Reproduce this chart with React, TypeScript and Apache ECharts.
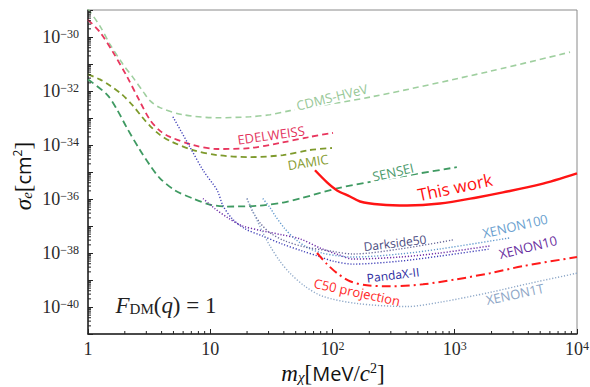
import React, { useEffect, useRef } from "react";
import * as echarts from "echarts";

// ---- data: [mass (MeV/c^2), cross-section (cm^2)] ----
const cdmsHVeV: [number, number][] = [
  [1, 1.11e-29], [1.25, 2.58e-30], [1.51, 5.47e-31], [1.93, 9.8e-32], [2.33, 3.2e-32],
  [2.82, 9.57e-33], [3.21, 4.41e-33], [3.88, 2.42e-33], [5.99, 1.32e-33], [11.4, 1.02e-33],
  [21.1, 1.11e-33], [30.8, 1.32e-33], [44.9, 1.87e-33], [214, 6.22e-33], [1940, 5.36e-32],
  [8770, 2.75e-31],
];
const edelweiss: [number, number][] = [
  [1, 4.33e-30], [1.25, 1.54e-30], [1.6, 2.75e-31], [2.08, 3.48e-32], [2.66, 4.05e-33],
  [3.21, 8.6e-34], [3.88, 3.33e-34], [4.69, 1.99e-34], [7.23, 1.0e-34], [11.4, 7.1e-35],
  [21.1, 7.7e-35], [37.1, 1.19e-34], [65, 1.99e-34], [101, 2.81e-34],
];
const damic: [number, number][] = [
  [1, 4.14e-32], [1.25, 2.69e-32], [1.51, 1.61e-32], [1.9, 7.4e-33], [2.33, 2.87e-33],
  [2.76, 1.11e-33], [3.21, 5.13e-34], [3.88, 2.37e-34], [4.69, 1.41e-34], [7.23, 6.5e-35],
  [11.4, 4.23e-35], [21.1, 3.56e-35], [39.4, 4.23e-35], [65, 6.5e-35], [99, 7.73e-35],
];
const sensei: [number, number][] = [
  [1, 2.69e-32], [1.43, 7.4e-33], [1.73, 2.03e-33], [2.08, 4.33e-34], [2.66, 6.5e-35],
  [3.21, 1.79e-35], [3.88, 5.84e-36], [5.15, 2.08e-36], [7.23, 1.04e-36], [9.93, 6.22e-37],
  [13.7, 5.25e-37], [25.5, 5.71e-37], [39.4, 7.4e-37], [54.2, 1.04e-36], [109, 2.47e-36],
  [214, 4.51e-36], [1040, 1.51e-35],
];
const thisWork: [number, number][] = [
  [71.9, 1.16e-35], [90.2, 4.14e-36], [109, 2.08e-36], [139, 1.24e-36], [168, 8.07e-37],
  [245, 6.22e-37], [407, 5.71e-37], [757, 6.8e-37], [1520, 1.14e-36], [2480, 1.75e-36],
  [4980, 3.48e-36], [10000, 8.97e-36],
];
const c50Projection: [number, number][] = [
  [74.7, 1.0e-38], [90.2, 3.88e-39], [109, 1.79e-39], [139, 8.97e-40], [191, 6.37e-40],
  [295, 5.84e-40], [550, 6.93e-40], [1043, 1.07e-39], [1942, 1.79e-39], [3615, 3.27e-39],
  [10000, 7.08e-39],
];
const pandaX2: [number, number][] = [
  [4.95, 1.11e-33], [6.82, 8.4e-35], [8.73, 1.16e-35], [11.4, 2.08e-36], [12.7, 5.71e-37],
  [15.1, 1.87e-37], [19.2, 7.9e-38], [26.5, 4.33e-38], [38.6, 2.17e-38], [56.4, 1.19e-38],
  [76.0, 7.7e-39], [101, 5.0e-39], [147, 3.88e-39], [356, 5.0e-39], [757, 7.7e-39],
  [1942, 1.41e-38],
];
const xenon10: [number, number][] = [
  [8.73, 1.04e-36], [10.9, 4.41e-37], [13.9, 2.03e-37], [18.2, 1.02e-37], [26.5, 6.64e-38],
  [38.6, 4.71e-38], [54.2, 3.34e-38], [78.9, 1.54e-38], [114, 8.4e-39], [147, 5.97e-39],
  [356, 7.08e-39], [757, 1.0e-38], [1942, 1.83e-38],
];
const xenon100: [number, number][] = [
  [26.9, 1.04e-36], [30.8, 4.81e-37], [33.9, 2.42e-37], [40.8, 7.9e-38], [49.3, 3.34e-38],
  [63.1, 1.54e-38], [82.0, 1.0e-38], [114, 7.7e-39], [147, 7.08e-39], [356, 9.2e-39],
  [757, 1.41e-38], [2830, 3.64e-38],
];
const darkside50: [number, number][] = [
  [20.0, 1.04e-36], [22.0, 3.72e-37], [25.5, 1.32e-37], [30.8, 5.6e-38], [40.8, 2.81e-38],
  [59.6, 1.67e-38], [95.5, 1.19e-38], [147, 9.2e-39], [356, 1.41e-38], [970, 3.06e-38],
];
const xenon1T: [number, number][] = [
  [20.0, 1.04e-36], [23.2, 2.42e-37], [26.5, 6.64e-38], [30.8, 1.83e-38], [37.1, 5.0e-39],
  [44.9, 1.79e-39], [59.6, 5.84e-40], [83.6, 2.47e-40], [158, 1.35e-40], [407, 1.04e-40],
  [757, 1.5e-40], [1942, 3.48e-40], [4130, 7.57e-40], [10000, 1.79e-39],
];

// axis ranges (x: MeV, y: decades of cm^2) and labelled exponents
const xMin = 1;
const xMax = 10000;
const yMinExp = -41;
const yMaxExp = -29;
const yLabelExponents = [-40, -38, -36, -34, -32, -30];
const xLabelExponents = [0, 1, 2, 3, 4];

const SERIF = "'Liberation Serif', 'DejaVu Serif', serif";
const SANS = "'Open Sans', 'DejaVu Sans', sans-serif";

// y is drawn on a linear axis of log10(sigma)
const toLog = (d: [number, number][]) => d.map(([m, s]) => [m, Math.log10(s)]);

export default function App() {
  const ref = useRef<HTMLDivElement>(null);
  useEffect(() => {
    const chart = echarts.init(ref.current!, null, { renderer: "svg" });
    const tickRich = {
      b: { fontFamily: SERIF, fontSize: 18, color: "#2a2a2a" },
      s: { fontFamily: SERIF, fontSize: 12, color: "#2a2a2a", verticalAlign: "top" as const },
    };
    const curve = (name: string, data: [number, number][], color: string, width: number, type: any) => ({
      name,
      type: "line" as const,
      data: toLog(data),
      symbol: "none",
      smooth: 0.3,
      clip: true,
      lineStyle: { color, width, type },
      z: 3,
    });
    const xMinor: number[][] = [];
    for (let e = 0; e < 4; e++) for (let k = 2; k <= 9; k++) xMinor.push([k * Math.pow(10, e), yMinExp]);
    const yMinor: number[][] = [];
    for (let e = yMinExp; e < yMaxExp; e++) for (let k = 2; k <= 9; k++) yMinor.push([xMin, e + Math.log10(k)]);

    const labels = [
      { t: "CDMS-HVeV", x: 332, y: 97, r: 14, c: "#98c898", s: 13, bg: true },
      { t: "EDELWEISS", x: 271, y: 135, r: 8, c: "#e3325c", s: 13, bg: true },
      { t: "DAMIC", x: 308, y: 162, r: 9, c: "#869c32", s: 13, bg: false },
      { t: "SENSEI", x: 393, y: 172, r: 13, c: "#4c9a6c", s: 13, bg: true },
      { t: "This work", x: 455, y: 187, r: 12, c: "#ff1010", s: 17, bg: false },
      { t: "Darkside50", x: 395, y: 243, r: 7, c: "#4b4b80", s: 12, bg: false },
      { t: "XENON100", x: 515, y: 226, r: 13, c: "#6a9fcf", s: 13, bg: false },
      { t: "XENON10", x: 528, y: 247, r: 14, c: "#6a2fa0", s: 13, bg: false },
      { t: "PandaX-II", x: 393, y: 275, r: 7, c: "#2a2aa0", s: 12, bg: false },
      { t: "C50 projection", x: 357, y: 292, r: -12, c: "#ff2a2a", s: 13, bg: false },
      { t: "XENON1T", x: 515, y: 294, r: 12, c: "#8ea6c6", s: 13, bg: false },
    ];

    chart.setOption({
      animation: false,
      backgroundColor: "#fff",
      grid: {
        left: 88, right: 13, top: 10, bottom: 53, show: true, borderColor: "#8a8a8a", borderWidth: 1,
        containLabel: false, outerBoundsMode: "none",
      },
      xAxis: {
        type: "log",
        logBase: 10,
        min: xMin,
        max: xMax,
        interval: 1,
        axisLine: { onZero: false, lineStyle: { color: "#222", width: 1.5 } },
        axisTick: { inside: true, length: 5, lineStyle: { color: "#222", width: 1 } },
        splitLine: { show: false },
        axisLabel: {
          margin: 6,
          fontFamily: SERIF,
          fontSize: 18,
          color: "#2a2a2a",
          showMinLabel: true,
          showMaxLabel: true,
          formatter: (v: number) => {
            const e = Math.round(Math.log10(v));
            if (!xLabelExponents.includes(e)) return "";
            if (e === 0) return "{b|1}";
            if (e === 1) return "{b|10}";
            return `{b|10}{s|${e}}`;
          },
          rich: tickRich,
        },
      },
      yAxis: {
        type: "value",
        min: yMinExp,
        max: yMaxExp,
        interval: 1,
        axisLine: { onZero: false, lineStyle: { color: "#222", width: 1.5 } },
        axisTick: { inside: true, length: 5, lineStyle: { color: "#222", width: 1 } },
        splitLine: { show: false },
        axisLabel: {
          margin: 9,
          fontFamily: SERIF,
          fontSize: 18,
          color: "#2a2a2a",
          showMinLabel: true,
          showMaxLabel: true,
          formatter: (v: number) => {
            const e = Math.round(v);
            if (!yLabelExponents.includes(e)) return "";
            return `{b|10}{s|\u2212${-e}}`;
          },
          rich: tickRich,
        },
      },
      series: [
        curve("CDMS-HVeV", cdmsHVeV, "#9fcf9f", 1.6, [6, 4]),
        curve("EDELWEISS", edelweiss, "#e8365e", 1.8, [6, 4]),
        curve("DAMIC", damic, "#7e9a2c", 1.8, [6, 4]),
        curve("SENSEI", sensei, "#3f9a62", 1.8, [7, 4]),
        curve("PandaX-II", pandaX2, "#4040b8", 1.4, [1.2, 1.8]),
        curve("XENON10", xenon10, "#7030a8", 1.5, [1.2, 1.8]),
        curve("XENON100", xenon100, "#5e97cc", 1.4, [1.2, 1.8]),
        curve("Darkside50", darkside50, "#6a6a9a", 1.4, [1.2, 1.8]),
        curve("XENON1T", xenon1T, "#8ea8c8", 1.4, [1.2, 1.8]),
        { ...curve("C50 projection", c50Projection, "#ff1a1a", 2, [9, 4, 2, 4]), z: 4 },
        { ...curve("This work", thisWork, "#ff1414", 2.4, "solid"), z: 4 },
        {
          type: "custom",
          silent: true,
          data: xMinor,
          z: 6,
          renderItem: (_p: any, api: any) => {
            const pt = api.coord([api.value(0), api.value(1)]);
            return { type: "line", shape: { x1: pt[0], y1: pt[1], x2: pt[0], y2: pt[1] - 3 }, style: { stroke: "#222", lineWidth: 1 } };
          },
        },
        {
          type: "custom",
          silent: true,
          data: yMinor,
          z: 6,
          renderItem: (_p: any, api: any) => {
            const pt = api.coord([api.value(0), api.value(1)]);
            return { type: "line", shape: { x1: pt[0], y1: pt[1], x2: pt[0] + 3, y2: pt[1] }, style: { stroke: "#222", lineWidth: 1 } };
          },
        },
      ],
      graphic: [
        ...labels.map((l) => ({
          type: "text",
          x: l.x,
          y: l.y,
          rotation: (l.r * Math.PI) / 180,
          z: 10,
          style: {
            text: l.t, fill: l.c, fontFamily: SANS, fontSize: l.s, align: "center", verticalAlign: "middle",
            backgroundColor: l.bg ? "#ffffff" : undefined, padding: l.bg ? [0, 3] : undefined,
          },
        })),
        {
          type: "text",
          x: 166,
          y: 305,
          z: 10,
          style: {
            text: "{i|F}{sub|DM}{r|(}{i|q}{r|) = 1}",
            align: "center",
            verticalAlign: "middle",
            fill: "#222",
            rich: {
              i: { fontFamily: SERIF, fontStyle: "italic", fontSize: 23, fill: "#222" },
              r: { fontFamily: SERIF, fontSize: 23, fill: "#222" },
              sub: { fontFamily: SERIF, fontSize: 15, fill: "#222", verticalAlign: "bottom" },
            },
          },
        },
        {
          type: "text",
          x: 333,
          y: 373,
          z: 10,
          style: {
            text: "{i|m}{sub|\u03c7}{r|[}{s|MeV}{r|/}{i|c}{sup|2}{r|]}",
            align: "center",
            verticalAlign: "middle",
            fill: "#111",
            rich: {
              i: { fontFamily: SERIF, fontStyle: "italic", fontSize: 23, fill: "#111" },
              r: { fontFamily: SERIF, fontSize: 23, fill: "#111" },
              s: { fontFamily: SANS, fontSize: 20, fill: "#111" },
              sub: { fontFamily: SERIF, fontStyle: "italic", fontSize: 15, fill: "#111", verticalAlign: "bottom" },
              sup: { fontFamily: SERIF, fontSize: 14, fill: "#111", verticalAlign: "top" },
            },
          },
        },
        {
          type: "text",
          x: 23,
          y: 176,
          rotation: Math.PI / 2,
          z: 10,
          style: {
            text: "{i|\u03c3}{sub|e}{r|[}{s|cm}{sup|2}{r|]}",
            align: "center",
            verticalAlign: "middle",
            fill: "#111",
            rich: {
              i: { fontFamily: SERIF, fontStyle: "italic", fontSize: 23, fill: "#111" },
              r: { fontFamily: SERIF, fontSize: 23, fill: "#111" },
              s: { fontFamily: SANS, fontSize: 20, fill: "#111" },
              sub: { fontFamily: SERIF, fontStyle: "italic", fontSize: 15, fill: "#111", verticalAlign: "bottom" },
              sup: { fontFamily: SANS, fontSize: 12, fill: "#111", verticalAlign: "top" },
            },
          },
        },
      ],
    });
    return () => chart.dispose();
  }, []);
  return <div ref={ref} style={{ position: "fixed", left: 0, top: 0, width: 590, height: 387 }} />;
}
